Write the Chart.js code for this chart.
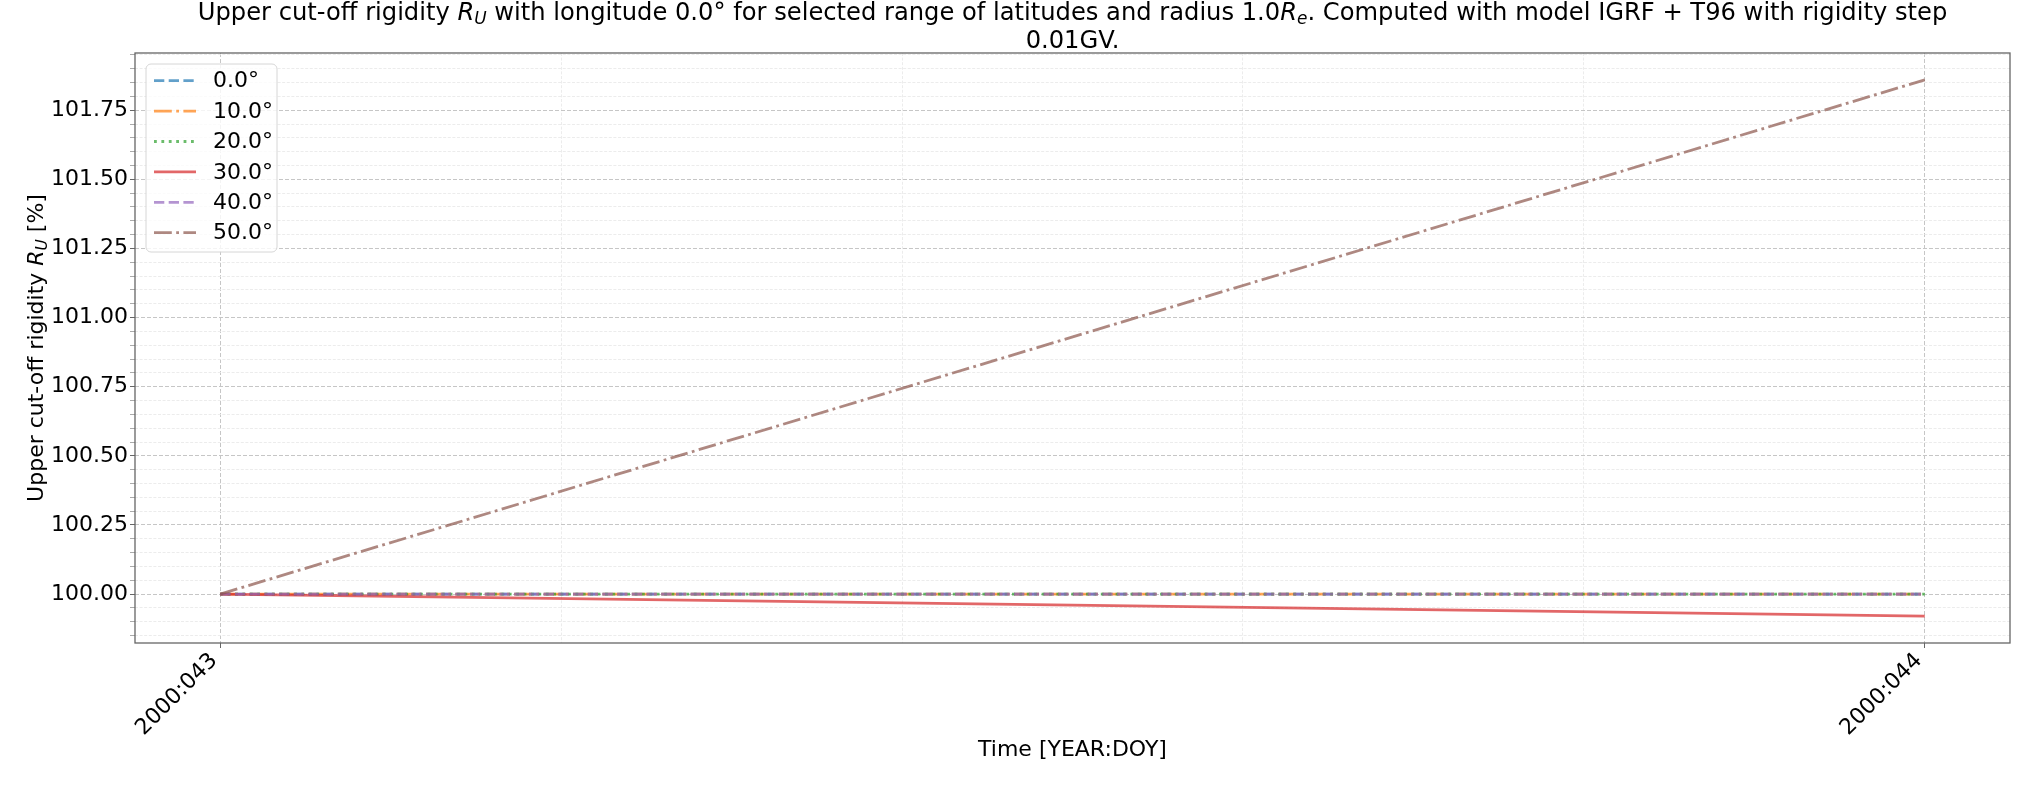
<!DOCTYPE html>
<html>
<head>
<meta charset="utf-8">
<script src="https://cdn.jsdelivr.net/npm/chart.js@4.4.1/dist/chart.umd.min.js"></script>
<style>
  html, body { margin: 0; padding: 0; background: #fff; }
  #wrap { width: 2035px; height: 785px; position: relative; }
</style>
</head>
<body>
<div id="wrap"><canvas id="cutoff"></canvas></div>
<script>
// day of year 2000 and its tick labels
var days = [43, 44];
var dayLabels = ['2000:043', '2000:044'];
var latitudes = ['0.0°', '10.0°', '20.0°', '30.0°', '40.0°', '50.0°'];

// upper cut-off rigidity relative to first day [%]
var lat0 = [100.0, 100.0];
var lat10 = [100.0, 100.0];
var lat20 = [100.0, 100.0];
var lat30 = [100.0, 99.92];
var lat40 = [100.0, 100.0];
var lat50 = [100.0, 101.86];

var series = [lat0, lat10, lat20, lat30, lat40, lat50];

var FONT = "'DejaVu Sans', sans-serif";
var SIZE = 22;
var TITLE_SIZE = 24.2;
var LW = 2.8;
var DASH = [10.3, 4.4];
var DASHDOT = [17.8, 4.4, 2.8, 4.4];
var DOT = [2.8, 4.6];
var colors = [
  'rgba(31,119,180,0.7)',
  'rgba(255,127,14,0.7)',
  'rgba(44,160,44,0.7)',
  'rgba(214,39,40,0.7)',
  'rgba(148,103,189,0.7)',
  'rgba(140,86,75,0.7)'
];
var dashes = [DASH, DASHDOT, DOT, [], DASH, DASHDOT];

// matplotlib style 5% margins
var allY = [].concat.apply([], series);
var yLo = Math.min.apply(null, allY), yHi = Math.max.apply(null, allY);
var yPad = (yHi - yLo) * 0.05;
var yMin = yLo - yPad, yMax = yHi + yPad;
var xPad = (days[days.length - 1] - days[0]) * 0.05;
var xMin = days[0] - xPad, xMax = days[days.length - 1] + xPad;

var datasets = series.map(function (vals, i) {
  return {
    label: latitudes[i],
    data: vals.map(function (v, j) { return { x: days[j], y: v }; }),
    borderColor: colors[i],
    backgroundColor: colors[i],
    borderWidth: LW,
    borderDash: dashes[i],
    pointRadius: 0,
    fill: false,
    tension: 0,
    order: series.length - i
  };
});

function gridColor(ctx) {
  return ctx.tick && ctx.tick.major ? '#c6c6c6' : '#ececec';
}
function gridDash(ctx) {
  return ctx.tick && ctx.tick.major ? [4, 2] : [3, 1.6];
}

// rich text: segments with italic / subscript parts
function segFont(s, size) {
  return (s.it ? 'italic ' : '') + (s.sub ? size * 0.7 : size) + 'px ' + FONT;
}
function richWidth(ctx, segs, size) {
  var w = 0;
  segs.forEach(function (s) { ctx.font = segFont(s, size); w += ctx.measureText(s.t).width; });
  return w;
}
function drawRich(ctx, segs, x, y, size) {
  var cx = x - richWidth(ctx, segs, size) / 2;
  ctx.textAlign = 'left';
  ctx.textBaseline = 'alphabetic';
  segs.forEach(function (s) {
    ctx.font = segFont(s, size);
    ctx.fillText(s.t, cx, y + (s.sub ? size * 0.18 : 0));
    cx += ctx.measureText(s.t).width;
  });
}

var titleLine1 = [
  { t: 'Upper cut-off rigidity ' }, { t: 'R', it: 1 }, { t: 'U', it: 1, sub: 1 },
  { t: ' with longitude 0.0° for selected range of latitudes and radius 1.0' },
  { t: 'R', it: 1 }, { t: 'e', it: 1, sub: 1 },
  { t: '. Computed with model IGRF + T96 with rigidity step' }
];
var titleLine2 = [{ t: '0.01GV.' }];
var yLabel = [
  { t: 'Upper cut-off rigidity ' }, { t: 'R', it: 1 }, { t: 'U', it: 1, sub: 1 }, { t: ' [%]' }
];

var decor = {
  id: 'decor',
  afterDatasetsDraw: function (chart) {
    var a = chart.chartArea, ctx = chart.ctx;
    ctx.save();
    ctx.strokeStyle = '#666';
    ctx.lineWidth = 1.3;
    ctx.strokeRect(a.left, a.top, a.right - a.left, a.bottom - a.top);
    ctx.restore();
  },
  afterDraw: function (chart) {
    var a = chart.chartArea, ctx = chart.ctx;
    var cx = (a.left + a.right) / 2;
    ctx.save();
    ctx.fillStyle = '#000';
    drawRich(ctx, titleLine1, cx, 20, TITLE_SIZE);
    drawRich(ctx, titleLine2, cx, 48, TITLE_SIZE);
    drawRich(ctx, [{ t: 'Time [YEAR:DOY]' }], cx, 756, SIZE);
    ctx.translate(43, (a.top + a.bottom) / 2);
    ctx.rotate(-Math.PI / 2);
    drawRich(ctx, yLabel, 0, 0, SIZE);
    ctx.restore();

    // legend
    ctx.save();
    var lx = 146, ly = 64, lw = 131, lh = 188, r = 5;
    ctx.beginPath();
    ctx.moveTo(lx + r, ly);
    ctx.arcTo(lx + lw, ly, lx + lw, ly + lh, r);
    ctx.arcTo(lx + lw, ly + lh, lx, ly + lh, r);
    ctx.arcTo(lx, ly + lh, lx, ly, r);
    ctx.arcTo(lx, ly, lx + lw, ly, r);
    ctx.closePath();
    ctx.fillStyle = 'rgba(255,255,255,0.8)';
    ctx.fill();
    ctx.strokeStyle = '#d6d6d6';
    ctx.lineWidth = 1;
    ctx.stroke();
    chart.data.datasets.forEach(function (ds, i) {
      var y = 80.7 + 30.4 * i;
      ctx.beginPath();
      ctx.setLineDash(ds.borderDash);
      ctx.strokeStyle = ds.borderColor;
      ctx.lineWidth = ds.borderWidth;
      ctx.moveTo(154, y);
      ctx.lineTo(196, y);
      ctx.stroke();
      ctx.setLineDash([]);
      ctx.fillStyle = '#000';
      ctx.font = SIZE + 'px ' + FONT;
      ctx.textAlign = 'left';
      ctx.textBaseline = 'middle';
      ctx.fillText(ds.label, 213, y + 1);
    });
    ctx.restore();
  }
};

new Chart(document.getElementById('cutoff'), {
  type: 'line',
  data: { datasets: datasets },
  plugins: [decor],
  options: {
    responsive: true,
    maintainAspectRatio: false,
    animation: false,
    layout: { padding: { top: 53, right: 25, left: 0, bottom: 0 } },
    plugins: {
      legend: { display: false },
      title: { display: false },
      tooltip: { enabled: false }
    },
    scales: {
      x: {
        type: 'linear',
        min: xMin,
        max: xMax,
        afterBuildTicks: function (scale) {
          var t = [];
          for (var k = 0; k <= 5; k++) {
            t.push({ value: days[0] + k * 0.2, major: k % 5 === 0 });
          }
          scale.ticks = t;
        },
        afterFit: function (scale) { scale.height = 142; },
        ticks: {
          autoSkip: false,
          minRotation: 45,
          maxRotation: 45,
          padding: 0,
          labelOffset: -6,
          color: '#000',
          font: { family: FONT, size: SIZE },
          callback: function (value) {
            var idx = days.indexOf(Math.round(value * 1000) / 1000);
            return idx >= 0 ? dayLabels[idx] : '';
          }
        },
        grid: {
          color: gridColor,
          lineWidth: 1,
          tickLength: 5,
          tickColor: function (ctx) { return ctx.tick && ctx.tick.major ? '#666' : 'rgba(0,0,0,0)'; }
        },
        border: { display: false, dash: gridDash }
      },
      y: {
        type: 'linear',
        min: yMin,
        max: yMax,
        afterBuildTicks: function (scale) {
          var t = [];
          for (var n = Math.ceil(yMin * 20); n <= Math.floor(yMax * 20); n++) {
            t.push({ value: n / 20, major: n % 5 === 0 });
          }
          scale.ticks = t;
        },
        afterFit: function (scale) { scale.width = 135; },
        ticks: {
          autoSkip: false,
          padding: 2,
          color: '#000',
          font: { family: FONT, size: SIZE },
          callback: function (value) {
            return Math.round(value * 20) % 5 === 0 ? value.toFixed(2) : '';
          }
        },
        grid: {
          color: gridColor,
          lineWidth: 1,
          tickLength: 5,
          tickColor: function (ctx) { return ctx.tick && ctx.tick.major ? '#666' : '#aaa'; }
        },
        border: { display: false, dash: gridDash }
      }
    }
  }
});
</script>
</body>
</html>
